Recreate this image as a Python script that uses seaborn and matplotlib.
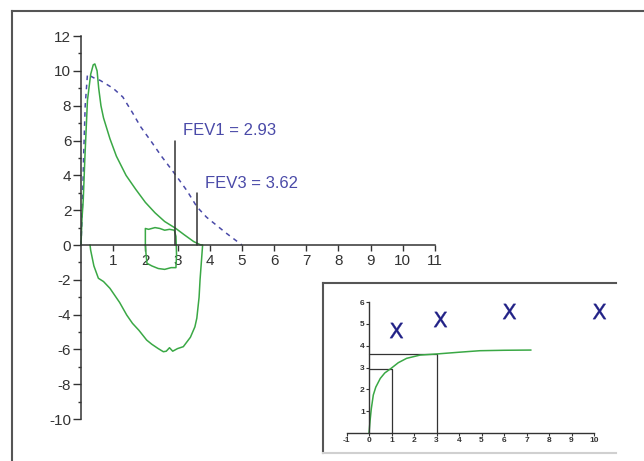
import matplotlib
matplotlib.use('Agg')
import matplotlib.pyplot as plt
import seaborn as sns
import numpy as np
import pandas as pd

# Curva fluxo-volume (expiração + inspiração), volume (L) x fluxo (L/s)
volume_loop = [0, 0.03, 0.07, 0.12, 0.2, 0.3, 0.38, 0.43, 0.5, 0.55, 0.62, 0.7, 0.9, 1.1,
               1.4, 1.7, 2.0, 2.3, 2.6, 2.94, 3.2, 3.5, 3.7, 3.78,
               3.76, 3.72, 3.7, 3.67, 3.6, 3.54, 3.4, 3.18, 3.0, 2.85, 2.75, 2.65, 2.56,
               2.4, 2.2, 2.04, 1.8, 1.6, 1.42, 1.2, 0.9, 0.7, 0.54, 0.4, 0.3, 0.28]
fluxo_loop = [0, 1.5, 2.6, 5.0, 8.3, 9.8, 10.35, 10.4, 10.0, 9.0, 8.0, 7.3, 6.1, 5.1,
              4.0, 3.2, 2.45, 1.85, 1.35, 0.96, 0.6, 0.2, 0.02, 0,
              -0.5, -1.5, -2.0, -3.0, -4.2, -4.7, -5.3, -5.84, -5.95, -6.1, -5.9, -6.1, -6.13,
              -5.95, -5.7, -5.46, -4.9, -4.5, -4.02, -3.3, -2.49, -2.1, -1.91, -1.2, -0.3, 0]

# Segunda manobra (laço pequeno)
volume_laco = [2.0, 2.0, 2.1, 2.3, 2.45, 2.6, 2.75, 2.9, 2.95, 2.96, 2.97, 2.95, 2.8, 2.6,
               2.4, 2.2, 2.05, 2.02, 2.0]
fluxo_laco = [0, 0.95, 0.9, 1.0, 0.95, 0.85, 0.9, 0.85, 0.5, 0, -0.6, -1.3, -1.3, -1.4,
              -1.35, -1.2, -1.05, -0.5, 0]

# Curva prevista (tracejada)
volume_prev = [0, 0.04, 0.08, 0.13, 0.2, 0.4, 0.6, 1.0, 1.3, 1.6, 1.85, 2.2, 2.5, 2.95,
               3.3, 3.6, 3.9, 4.5, 5.0]
fluxo_prev = [0, 2.0, 5.0, 8.0, 9.8, 9.6, 9.45, 9.0, 8.5, 7.6, 6.8, 5.9, 5.1, 4.0,
              3.1, 2.2, 1.6, 0.7, 0]

# FEV1 / FEV3
fev_nomes = ['FEV1', 'FEV3']
fev_valores = [2.93, 3.62]
fev_alturas = [6, 3]
fev_tempos = [1, 3]

# Curva volume-tempo (inset)
tempo_vt = [0, 0.05, 0.1, 0.19, 0.3, 0.5, 0.7, 0.98, 1.3, 1.67, 2.27, 3.0, 4.0, 4.93, 6.0, 7.2]
volume_vt = [0, 0.6, 1.1, 1.74, 2.1, 2.5, 2.75, 2.96, 3.22, 3.42, 3.57, 3.62, 3.7, 3.77, 3.79, 3.8]

# Marcas "X" no inset
x_marcas = [1.2, 3.15, 6.2, 10.2]
y_marcas = [4.72, 5.23, 5.6, 5.6]

verde = '#3aa845'
azul = '#4a4aa8'
cinza = '#333333'

sns.set_style('ticks')
plt.rcParams['font.family'] = ['Liberation Sans', 'DejaVu Sans']
plt.rcParams['axes.unicode_minus'] = False

fig = plt.figure(figsize=(6.44, 4.61), dpi=100)

# Moldura externa
moldura = fig.add_axes([12 / 644, -0.05, 1.1, 1 - 11 / 461 + 0.05])
moldura.set_xticks([])
moldura.set_yticks([])
for lado in ['right', 'bottom']:
    moldura.spines[lado].set_visible(False)
for lado in ['left', 'top']:
    moldura.spines[lado].set_color('#555555')
    moldura.spines[lado].set_linewidth(1.5)

# Gráfico principal
ax = fig.add_axes([0.1158, 0.0720, 0.5845, 0.8686])
ax.set_facecolor('none')

sns.lineplot(x=volume_prev, y=fluxo_prev, sort=False, estimator=None, ax=ax,
             color=azul, linewidth=1.1, linestyle=(0, (3, 3)))
sns.lineplot(x=volume_loop, y=fluxo_loop, sort=False, estimator=None, ax=ax,
             color=verde, linewidth=1.1)
sns.lineplot(x=volume_laco, y=fluxo_laco, sort=False, estimator=None, ax=ax,
             color=verde, linewidth=1.1)

for nome, valor, altura in zip(fev_nomes, fev_valores, fev_alturas):
    sns.lineplot(x=[valor, valor], y=[0, altura], sort=False, estimator=None, ax=ax,
                 color=cinza, linewidth=1.1)
    ax.text(valor + 0.24, altura + 0.55, f'{nome} = {valor:.2f}', color=azul,
            fontsize=12, va='center', ha='left')

ax.set_xlim(-0.2, 11.5)
ax.set_ylim(-10.5, 12.5)
ax.spines['left'].set_position(('data', 0))
ax.spines['bottom'].set_position(('data', 0))
ax.spines['left'].set_bounds(-10, 12)
ax.spines['bottom'].set_bounds(0, 11)
for lado in ['top', 'right']:
    ax.spines[lado].set_visible(False)
for lado in ['left', 'bottom']:
    ax.spines[lado].set_color(cinza)
    ax.spines[lado].set_linewidth(1.1)
ax.set_xticks(range(1, 12))
ax.set_yticks(range(-10, 13, 2))
ax.set_yticks(range(-9, 12, 2), minor=True)
ax.tick_params(axis='y', which='major', length=6, width=1, colors=cinza, labelsize=11, pad=1)
ax.tick_params(axis='y', which='minor', length=2.5, width=1, colors=cinza)
ax.tick_params(axis='x', which='major', length=4, width=1, colors=cinza, labelsize=11, pad=2.5)
ax.set_xlabel('')
ax.set_ylabel('')

# Moldura do inset
moldura_in = fig.add_axes([323 / 644, 1 - 453 / 461, (616 - 323) / 644, (453 - 283) / 461])
moldura_in.set_facecolor('white')
moldura_in.set_xticks([])
moldura_in.set_yticks([])
moldura_in.spines['right'].set_visible(False)
for lado in ['left', 'top']:
    moldura_in.spines[lado].set_color('#555555')
    moldura_in.spines[lado].set_linewidth(1.5)
moldura_in.spines['bottom'].set_color('#d0d0d0')
moldura_in.spines['bottom'].set_linewidth(1.5)

# Inset volume-tempo
axi = fig.add_axes([0.5276, 0.0466, 0.4158, 0.3124])
axi.set_facecolor('none')
for t, v in zip(fev_tempos, fev_valores):
    sns.lineplot(x=[0, t, t], y=[v, v, 0], sort=False, estimator=None, ax=axi,
                 color=cinza, linewidth=0.9)
sns.lineplot(x=tempo_vt, y=volume_vt, sort=False, estimator=None, ax=axi,
             color=verde, linewidth=1.1)
sns.scatterplot(x=x_marcas, y=y_marcas, marker='$\\mathsf{X}$', s=120, color='#1f1f85',
                linewidth=0.3, edgecolor='#1f1f85', ax=axi, clip_on=False)

axi.set_xlim(-1.3, 10.6)
axi.set_ylim(-0.3, 6.3)
axi.spines['left'].set_position(('data', 0))
axi.spines['bottom'].set_position(('data', 0))
axi.spines['left'].set_bounds(0, 6)
axi.spines['bottom'].set_bounds(-1, 10)
for lado in ['top', 'right']:
    axi.spines[lado].set_visible(False)
for lado in ['left', 'bottom']:
    axi.spines[lado].set_color(cinza)
    axi.spines[lado].set_linewidth(1.0)
axi.set_xticks(range(-1, 11))
axi.set_yticks(range(1, 7))
axi.tick_params(axis='both', length=2, width=0.8, colors=cinza, labelsize=6, pad=1)
for rotulo in axi.get_xticklabels() + axi.get_yticklabels():
    rotulo.set_fontweight('bold')
axi.set_xlabel('')
axi.set_ylabel('')

fig.savefig('out.png', dpi=100)
